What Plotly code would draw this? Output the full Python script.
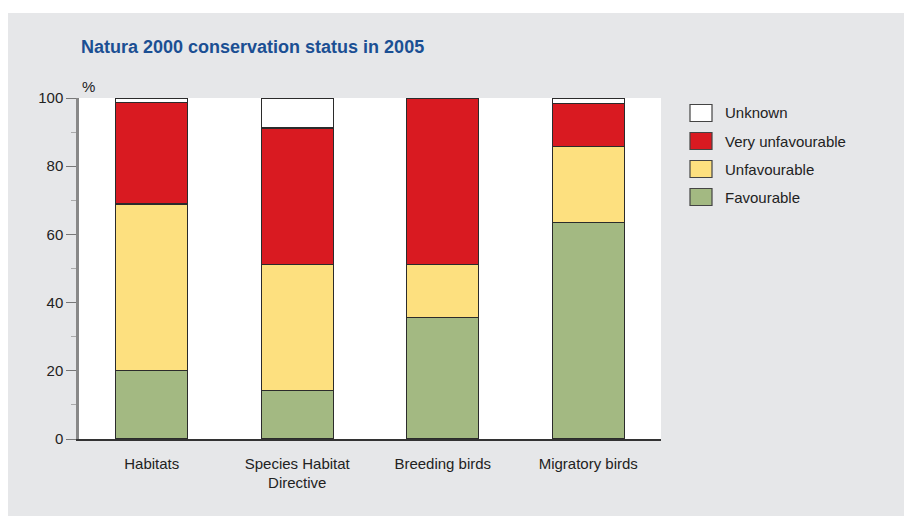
import plotly.graph_objects as go

categories = ["Habitats", "Species Habitat<br>Directive", "Breeding birds", "Migratory birds"]
favourable = [20.1, 14.2, 35.6, 63.6]
unfavourable = [48.8, 37.0, 15.5, 22.1]
very_unfavourable = [29.8, 40.0, 48.9, 12.8]
unknown = [1.3, 8.8, 0.0, 1.5]

series_names = ["Favourable", "Unfavourable", "Very unfavourable", "Unknown"]
series_values = [favourable, unfavourable, very_unfavourable, unknown]
series_colors = ["#a3b982", "#fde07f", "#d91a21", "#ffffff"]

FONT = "Liberation Sans Narrow, Arial Narrow, Liberation Sans, Arial, sans-serif"
W, H = 904, 516

fig = go.Figure()
for name, vals, col in zip(series_names, series_values, series_colors):
    fig.add_trace(go.Bar(
        x=categories, y=vals, name=name,
        marker=dict(color=col, line=dict(color="#2b2b2b", width=1.2)),
        showlegend=False,
    ))

# plot area: x 79..661, y 98..439
L, R, T, B = 79, 661, 98, 439
fig.update_layout(
    width=W, height=H,
    margin=dict(l=L, r=W - R, t=T, b=H - B),
    barmode="stack", bargap=0.505,
    paper_bgcolor="#ffffff", plot_bgcolor="#ffffff",
    font=dict(family=FONT, size=15, color="#222222"),
    showlegend=False,
    xaxis=dict(showline=True, linecolor="#333333", linewidth=1.5, ticks="",
               ticklabelstandoff=10,
               tickfont=dict(size=15, color="#222222"), fixedrange=True),
    yaxis=dict(range=[0, 100], tickvals=[0, 20, 40, 60, 80, 100], showgrid=False,
               showline=True, linecolor="#888888", linewidth=2.5,
               ticks="outside", ticklen=10, tickcolor="#777777", tickwidth=1,
               minor=dict(tickvals=[10, 30, 50, 70, 90], ticks="outside", ticklen=5,
                          tickcolor="#aaaaaa", tickwidth=1, showgrid=False),
               tickfont=dict(size=15, color="#222222"), zeroline=False),
)

shapes = [
    # gray panel
    dict(type="rect", xref="paper", yref="paper", layer="below",
         x0=-(L - 8) / (R - L), x1=(W - L) / (R - L),
         y0=-(H - B) / (B - T), y1=1 + (T - 13) / (B - T),
         fillcolor="#e6e7e9", line=dict(width=0)),
    # white plot area
    dict(type="rect", xref="paper", yref="paper", layer="below",
         x0=0, x1=1, y0=0, y1=1, fillcolor="#ffffff", line=dict(width=0)),
]

def px_x(px):
    return (px - L) / (R - L)

def px_y(py):
    return (B - py) / (B - T)

annotations = [
    dict(text="<b>Natura 2000 conservation status in 2005</b>", xref="paper", yref="paper",
         x=px_x(79), y=px_y(47), xanchor="left", yanchor="middle", showarrow=False,
         font=dict(family=FONT, size=18, color="#1b4f93")),
    dict(text="%", xref="paper", yref="paper", x=px_x(80), y=px_y(86),
         xanchor="left", yanchor="middle", showarrow=False,
         font=dict(family=FONT, size=15, color="#222222")),
]

# legend (top to bottom: Unknown, Very unfavourable, Unfavourable, Favourable)
leg_top = 113
for i, (name, col) in enumerate(zip(series_names[::-1], series_colors[::-1])):
    cy = leg_top + i * 28
    shapes.append(dict(type="rect", xref="paper", yref="paper",
                       x0=px_x(690), x1=px_x(712), y0=px_y(cy + 8.5), y1=px_y(cy - 8.5),
                       fillcolor=col, line=dict(color="#444444", width=1.2)))
    annotations.append(dict(text=name, xref="paper", yref="paper",
                            x=px_x(723), y=px_y(cy), xanchor="left", yanchor="middle",
                            showarrow=False, font=dict(family=FONT, size=15, color="#222222")))

fig.update_layout(shapes=shapes, annotations=annotations)
fig.write_html("out.html")
